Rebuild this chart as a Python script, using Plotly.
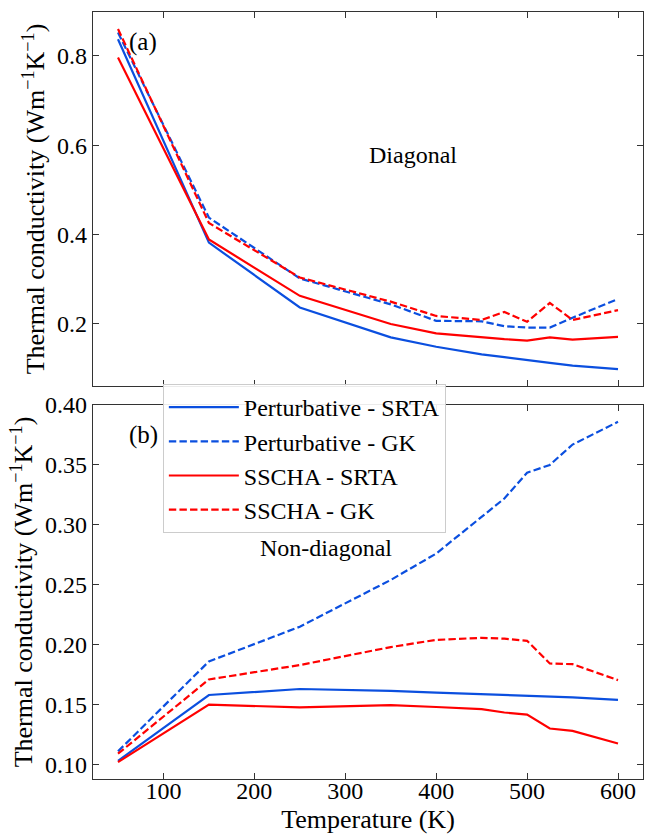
import plotly.graph_objects as go
from plotly.subplots import make_subplots

# ---------------- data ----------------
temperature = [50, 150, 250, 350, 400, 450, 475, 500, 525, 550, 600]

# (a) Diagonal
pert_srta_diag = [0.837, 0.382, 0.237, 0.170, 0.149, 0.132, 0.126, 0.119, 0.113, 0.107, 0.099]
pert_gk_diag = [0.852, 0.438, 0.302, 0.244, 0.207, 0.206, 0.195, 0.192, 0.192, 0.214, 0.256]
sscha_srta_diag = [0.796, 0.389, 0.263, 0.200, 0.179, 0.170, 0.166, 0.163, 0.170, 0.165, 0.171]
sscha_gk_diag = [0.860, 0.426, 0.304, 0.250, 0.218, 0.209, 0.227, 0.205, 0.247, 0.209, 0.231]

# (b) Non-diagonal
pert_srta_nondiag = [0.103, 0.158, 0.163, 0.1615, 0.160, 0.1587, 0.158, 0.1573, 0.1567, 0.156, 0.154]
pert_gk_nondiag = [0.111, 0.186, 0.215, 0.254, 0.276, 0.307, 0.322, 0.3435, 0.350, 0.367, 0.386]
sscha_srta_nondiag = [0.102, 0.150, 0.1476, 0.1495, 0.148, 0.1462, 0.1434, 0.1417, 0.130, 0.128, 0.1175]
sscha_gk_nondiag = [0.109, 0.171, 0.183, 0.198, 0.204, 0.2057, 0.205, 0.2032, 0.1843, 0.1837, 0.1704]

series_names = ["Perturbative - SRTA", "Perturbative - GK", "SSCHA - SRTA", "SSCHA - GK"]

BLUE = "#0b4fdf"
RED = "#ff0000"
DASH = "7.4px,3.2px"
FONT = "Liberation Serif"

fig = make_subplots(rows=2, cols=1, shared_xaxes=False, vertical_spacing=0.0248)

styles = [(BLUE, "solid"), (BLUE, DASH), (RED, "solid"), (RED, DASH)]
diag = [pert_srta_diag, pert_gk_diag, sscha_srta_diag, sscha_gk_diag]
nondiag = [pert_srta_nondiag, pert_gk_nondiag, sscha_srta_nondiag, sscha_gk_nondiag]

for name, (c, d), yv in zip(series_names, styles, diag):
    fig.add_trace(go.Scatter(x=temperature, y=yv, mode="lines", name=name,
                             line=dict(color=c, width=2.2, dash=d), showlegend=False),
                  row=1, col=1)
for name, (c, d), yv in zip(series_names, styles, nondiag):
    fig.add_trace(go.Scatter(x=temperature, y=yv, mode="lines", name=name,
                             line=dict(color=c, width=2.2, dash=d), showlegend=True),
                  row=2, col=1)

axis_common = dict(
    showline=True, linecolor="#333333", linewidth=1.3, mirror="ticks",
    ticks="inside", ticklen=6, tickwidth=1.2, tickcolor="#333333",
    showgrid=False, zeroline=False,
    tickfont=dict(family=FONT, size=24, color="black"),
)

fig.update_xaxes(**axis_common, automargin=False, range=[22.5, 627.5],
                 tickvals=[100, 200, 300, 400, 500, 600], ticklabelstandoff=-10)
fig.update_xaxes(showticklabels=False, row=1, col=1)
fig.update_xaxes(title=dict(text="Temperature (K)", font=dict(family=FONT, size=26, color="black")),
                 row=2, col=1)

ytitle = "Thermal conductivity (Wm<sup>\u22121</sup>K<sup>\u22121</sup>)"
fig.update_yaxes(**axis_common, automargin="left")
fig.update_yaxes(range=[0.0613, 0.898], tickvals=[0.2, 0.4, 0.6, 0.8], ticktext=["0.2", "0.4", "0.6", "0.8"],
                 title=dict(text=ytitle, font=dict(family=FONT, size=26, color="black"), standoff=4),
                 row=1, col=1)
fig.update_yaxes(range=[0.0879, 0.400],
                 tickvals=[0.10, 0.15, 0.20, 0.25, 0.30, 0.35, 0.40],
                 ticktext=["0.10", "0.15", "0.20", "0.25", "0.30", "0.35", "0.40"],
                 title=dict(text=ytitle, font=dict(family=FONT, size=26, color="black"), standoff=4),
                 row=2, col=1)

ann_font = dict(family=FONT, size=24, color="black")
fig.update_layout(
    width=650, height=834,
    margin=dict(l=93, r=7, t=12, b=55),
    paper_bgcolor="white", plot_bgcolor="white",
    font=dict(family=FONT, size=24, color="black"),
    legend=dict(
        x=0.127, y=0.515, xanchor="left", yanchor="top",
        bgcolor="rgba(255,255,255,0.9)", bordercolor="#cccccc", borderwidth=1,
        font=dict(family=FONT, size=24, color="black"),
        tracegroupgap=0, itemwidth=70,
    ),
    annotations=[
        dict(text="(a)", x=0.0905, y=0.961, xref="paper", yref="paper", showarrow=False,
             xanchor="center", yanchor="middle", font=dict(family=FONT, size=25, color="black")),
        dict(text="(b)", x=0.0914, y=0.4485, xref="paper", yref="paper", showarrow=False,
             xanchor="center", yanchor="middle", font=dict(family=FONT, size=25, color="black")),
        dict(text="Diagonal", x=0.582, y=0.8136, xref="paper", yref="paper", showarrow=False,
             xanchor="center", yanchor="middle", font=ann_font),
        dict(text="Non-diagonal", x=0.423, y=0.301, xref="paper", yref="paper", showarrow=False,
             xanchor="center", yanchor="middle", font=ann_font),
    ],
)

fig.write_html("out.html")
